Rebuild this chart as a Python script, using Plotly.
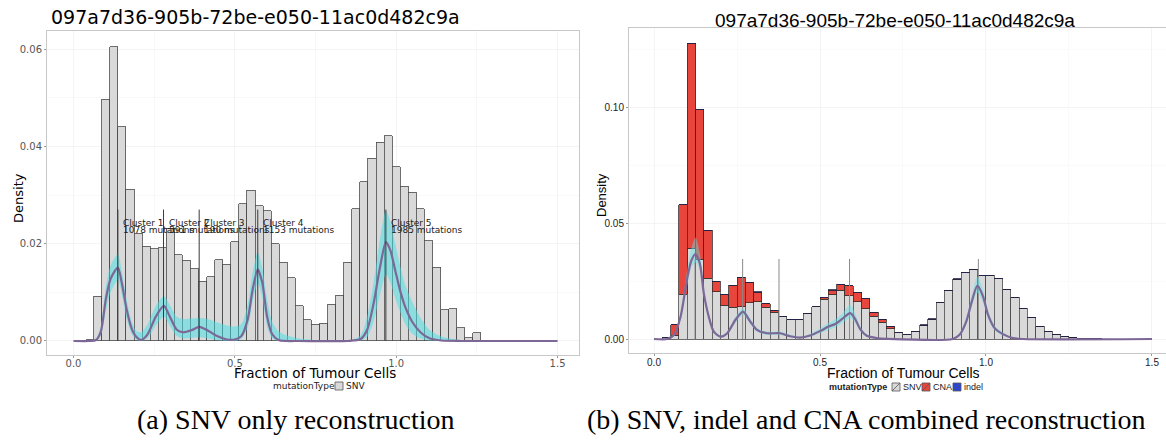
import plotly.graph_objects as go

# ---------------- data: left panel (SNV only) ----------------
L_bins = [0.050, 0.075, 0.100, 0.125, 0.150, 0.175, 0.200, 0.225, 0.250, 0.275,
          0.300, 0.325, 0.350, 0.375, 0.400, 0.425, 0.450, 0.475, 0.500, 0.525,
          0.550, 0.575, 0.600, 0.625, 0.650, 0.675, 0.700, 0.725, 0.750, 0.775,
          0.800, 0.825, 0.850, 0.875, 0.900, 0.925, 0.950, 0.975, 1.000, 1.025,
          1.050, 1.075, 1.100, 1.125, 1.150, 1.175, 1.200, 1.225, 1.250, 1.275,
          1.300, 1.325, 1.350, 1.375, 1.400, 1.425, 1.450, 1.475]
L_snv = [0.0003, 0.0092, 0.0497, 0.0605, 0.0440, 0.0312, 0.0221, 0.0195, 0.0190, 0.0192,
         0.0232, 0.0177, 0.0166, 0.0148, 0.0123, 0.0132, 0.0167, 0.0158, 0.0204, 0.0282,
         0.0310, 0.0278, 0.0268, 0.0200, 0.0162, 0.0130, 0.0072, 0.0044, 0.0034, 0.0036,
         0.0076, 0.0094, 0.0162, 0.0272, 0.0327, 0.0376, 0.0408, 0.0422, 0.0358, 0.0318,
         0.0306, 0.0272, 0.0206, 0.0152, 0.0064, 0.0066, 0.0027, 0.0007, 0.0017, 0.0002,
         0.0001, 0.0001, 0.0, 0.0, 0.0, 0.0, 0.0001, 0.0001]

L_x = [0.0, 0.05, 0.07, 0.085, 0.10, 0.115, 0.1375, 0.15, 0.165, 0.18,
       0.195, 0.21, 0.23, 0.255, 0.28, 0.30, 0.32, 0.34, 0.365, 0.39,
       0.415, 0.445, 0.475, 0.50, 0.52, 0.54, 0.555, 0.571, 0.585, 0.60,
       0.615, 0.635, 0.66, 0.70, 0.85, 0.89, 0.91, 0.93, 0.95, 0.968,
       0.982, 0.997, 1.012, 1.028, 1.05, 1.075, 1.105, 1.14, 1.20, 1.50]
L_y = [0, 0, 0.0002, 0.0020, 0.0085, 0.0128, 0.0151, 0.0118, 0.0064, 0.0026,
       0.0008, 0.0002, 0.0014, 0.0050, 0.0072, 0.0048, 0.0023, 0.0018, 0.0022, 0.0029,
       0.0022, 0.0010, 0.0003, 0.0003, 0.0010, 0.0045, 0.0105, 0.0147, 0.0120, 0.0050,
       0.0015, 0.0002, 0.0, 0.0, 0.0, 0.0004, 0.0023, 0.0077, 0.0152, 0.0203,
       0.0186, 0.0145, 0.0104, 0.0070, 0.0039, 0.0018, 0.0005, 0.0001, 0.0, 0.0]
L_lo = [0, 0, 0.0001, 0.0012, 0.0060, 0.0100, 0.0125, 0.0095, 0.0045, 0.0015,
        0.0003, 0.0, 0.0006, 0.0032, 0.0050, 0.0030, 0.0010, 0.0005, 0.0006, 0.0008,
        0.0005, 0.0002, 0.0, 0.0, 0.0004, 0.0028, 0.0080, 0.0118, 0.0090, 0.0030,
        0.0006, 0.0, 0.0, 0.0, 0.0, 0.0001, 0.0008, 0.0040, 0.0095, 0.0137,
        0.0120, 0.0088, 0.0060, 0.0035, 0.0015, 0.0005, 0.0001, 0.0, 0.0, 0.0]
L_hi = [0, 0.0001, 0.0005, 0.0030, 0.0110, 0.0155, 0.0178, 0.0142, 0.0085, 0.0040,
        0.0020, 0.0018, 0.0035, 0.0072, 0.0092, 0.0072, 0.0050, 0.0045, 0.0046, 0.0047,
        0.0045, 0.0038, 0.0032, 0.0030, 0.0035, 0.0075, 0.0140, 0.0183, 0.0150, 0.0085,
        0.0040, 0.0020, 0.0012, 0.0005, 0.0, 0.0012, 0.0050, 0.0120, 0.0210, 0.0268,
        0.0245, 0.0200, 0.0155, 0.0115, 0.0080, 0.0048, 0.0022, 0.0009, 0.0002, 0.0]

L_cluster_ccf = [0.1376, 0.279, 0.3895, 0.571, 0.968]
L_cluster_name = ["Cluster 1", "Cluster 2", "Cluster 3", "Cluster 4", "Cluster 5"]
L_cluster_muts = ["1078 mutations", "591 mutations", "190 mutations", "1153 mutations", "1985 mutations"]
L_cluster_height = 0.027

# ---------------- data: right panel (SNV + indel + CNA) ----------------
R_bins = [0.0375, 0.0625, 0.0875, 0.1125, 0.1375, 0.1625, 0.1875, 0.2125, 0.2375, 0.2625,
          0.2875, 0.3125, 0.3375, 0.3625, 0.3875, 0.4125, 0.4375, 0.4625, 0.4875, 0.5125,
          0.5375, 0.5625, 0.5875, 0.6125, 0.6375, 0.6625, 0.6875, 0.7125, 0.7375, 0.7625,
          0.7875, 0.8125, 0.8375, 0.8625, 0.8875, 0.9125, 0.9375, 0.9625, 0.9875, 1.0125,
          1.0375, 1.0625, 1.0875, 1.1125, 1.1375, 1.1625, 1.1875, 1.2125, 1.2375, 1.2625,
          1.2875, 1.3125, 1.3375]
R_snv = [0.0005, 0.0017, 0.0193, 0.0391, 0.0343, 0.0261, 0.0204, 0.0145, 0.0136, 0.0139,
         0.0157, 0.0161, 0.0136, 0.0115, 0.0097, 0.0083, 0.0085, 0.0110, 0.0140, 0.0172,
         0.0194, 0.0210, 0.0187, 0.0161, 0.0131, 0.0098, 0.0072, 0.0045, 0.0026, 0.0020,
         0.0033, 0.0059, 0.0086, 0.0158, 0.0211, 0.0258, 0.0286, 0.0301, 0.0274, 0.0274,
         0.0259, 0.0214, 0.0180, 0.0132, 0.0092, 0.0056, 0.0033, 0.0019, 0.0011, 0.0006,
         0.0004, 0.0002, 0.0001]
R_cna = [0.0, 0.0045, 0.0386, 0.0883, 0.0647, 0.0209, 0.0046, 0.0048, 0.0095, 0.0127,
         0.0087, 0.0040, 0.0016, 0.0006, 0.0, 0.0, 0.0, 0.0, 0.0, 0.0005,
         0.0017, 0.0027, 0.0043, 0.0040, 0.0044, 0.0018, 0.0013, 0.0008, 0.0004, 0.0,
         0.0, 0.0, 0.0, 0.0, 0.0, 0.0, 0.0, 0.0, 0.0, 0.0,
         0.0, 0.0, 0.0, 0.0, 0.0, 0.0, 0.0, 0.0, 0.0, 0.0,
         0.0, 0.0, 0.0]
R_indel = [0.0, 0.0, 0.0, 0.0, 0.0, 0.0, 0.0, 0.0, 0.0, 0.0,
           0.0, 0.0002, 0.0, 0.0, 0.0, 0.0, 0.0, 0.0, 0.0, 0.0,
           0.0002, 0.0, 0.0, 0.0, 0.0, 0.0, 0.0, 0.0, 0.0, 0.0,
           0.0, 0.0002, 0.0002, 0.0, 0.0, 0.0002, 0.0002, 0.0, 0.0, 0.0,
           0.0, 0.0, 0.0, 0.0, 0.0, 0.0, 0.0, 0.0, 0.0, 0.0,
           0.0, 0.0, 0.0]

R_x = [0.0, 0.04, 0.06, 0.08, 0.10, 0.113, 0.125, 0.138, 0.15, 0.165,
       0.18, 0.20, 0.22, 0.245, 0.268, 0.29, 0.31, 0.34, 0.38, 0.41,
       0.44, 0.47, 0.50, 0.526, 0.546, 0.566, 0.591, 0.606, 0.621, 0.641,
       0.671, 0.70, 0.90, 0.921, 0.941, 0.956, 0.974, 0.991, 1.006, 1.026,
       1.051, 1.081, 1.111, 1.50]
R_y = [0, 0, 0.0017, 0.0096, 0.0261, 0.0340, 0.0366, 0.0326, 0.0197, 0.0096,
       0.0032, 0.0010, 0.0024, 0.0082, 0.0118, 0.0075, 0.0039, 0.0025, 0.0025, 0.0012,
       0.0006, 0.0015, 0.0034, 0.0054, 0.0065, 0.0086, 0.0112, 0.0086, 0.0043, 0.0014,
       0.0004, 0.0001, 0.0, 0.0019, 0.0077, 0.0155, 0.0230, 0.0184, 0.0105, 0.0047,
       0.0021, 0.0004, 0.0, 0.0]
R_lo = [0, 0, 0.0012, 0.0080, 0.0230, 0.0310, 0.0330, 0.0300, 0.0180, 0.0085,
        0.0026, 0.0006, 0.0018, 0.0070, 0.0105, 0.0065, 0.0032, 0.0018, 0.0018, 0.0008,
        0.0003, 0.0010, 0.0025, 0.0040, 0.0050, 0.0068, 0.0090, 0.0070, 0.0034, 0.0009,
        0.0002, 0.0, 0.0, 0.0012, 0.0062, 0.0135, 0.0200, 0.0160, 0.0090, 0.0038,
        0.0015, 0.0002, 0.0, 0.0]
R_hi = [0, 0.0001, 0.0022, 0.0115, 0.0300, 0.0395, 0.0438, 0.0370, 0.0220, 0.0110,
        0.0040, 0.0015, 0.0030, 0.0095, 0.0132, 0.0088, 0.0048, 0.0032, 0.0032, 0.0018,
        0.0010, 0.0022, 0.0045, 0.0070, 0.0085, 0.0108, 0.0148, 0.0110, 0.0055, 0.0020,
        0.0006, 0.0002, 0.0001, 0.0026, 0.0095, 0.0180, 0.0270, 0.0215, 0.0125, 0.0058,
        0.0028, 0.0007, 0.0001, 0.0]

R_cluster_ccf = [0.1235, 0.267, 0.3765, 0.589, 0.977]
R_cluster_height = 0.0345

TITLE = "097a7d36-905b-72be-e050-11ac0d482c9a"
LEGEND_TITLE = "mutationType"
L_types = ["SNV"]
R_types = ["SNV", "CNA", "indel"]

# ---------------- styling ----------------
W, H = 1166, 441
def px(x):
    return x / W
def py(y):
    return 1 - y / H

GREY = "#d9d9d9"
OUTLINE = "#4a4a4a"
PURPLE = "#7d6796"
RED = "#e8463c"
BLUE = "#2b45d8"
type_colors = {"SNV": GREY, "CNA": RED, "indel": BLUE}

fig = go.Figure()

# left histogram
fig.add_trace(go.Bar(x=L_bins, y=L_snv, name="SNV", marker=dict(color=GREY, line=dict(color=OUTLINE, width=0.8)),
                     xaxis="x", yaxis="y", showlegend=False))
fig.add_trace(go.Scatter(x=L_x, y=L_lo, mode="lines", line=dict(width=0, shape="spline", smoothing=0.7),
                         xaxis="x", yaxis="y", showlegend=False, hoverinfo="skip"))
fig.add_trace(go.Scatter(x=L_x, y=L_hi, mode="lines", line=dict(width=0, shape="spline", smoothing=0.7),
                         fill="tonexty", fillcolor="rgba(64,224,232,0.5)", xaxis="x", yaxis="y",
                         showlegend=False, hoverinfo="skip"))
fig.add_trace(go.Scatter(x=L_x, y=L_y, mode="lines", line=dict(color=PURPLE, width=2.2, shape="spline", smoothing=0.7),
                         xaxis="x", yaxis="y", showlegend=False))
lx, ly = [], []
for c in L_cluster_ccf:
    lx += [c, c, None]
    ly += [0, L_cluster_height, None]
fig.add_trace(go.Scatter(x=lx, y=ly, mode="lines", line=dict(color="#3a3a3a", width=1),
                         xaxis="x", yaxis="y", showlegend=False, hoverinfo="skip"))

# right stacked histogram
fig.add_trace(go.Bar(x=R_bins, y=R_snv, name="SNV", marker=dict(color=GREY, line=dict(color=OUTLINE, width=0.8)),
                     xaxis="x2", yaxis="y2", showlegend=False))
fig.add_trace(go.Bar(x=R_bins, y=R_cna, name="CNA", marker=dict(color=RED, line=dict(color="#3a2a2a", width=0.8)),
                     xaxis="x2", yaxis="y2", showlegend=False))
fig.add_trace(go.Bar(x=R_bins, y=R_indel, name="indel", marker=dict(color=BLUE, line=dict(color="#222244", width=0.8)),
                     xaxis="x2", yaxis="y2", showlegend=False))
rx, ry = [], []
for c in R_cluster_ccf:
    rx += [c, c, None]
    ry += [0, R_cluster_height, None]
fig.add_trace(go.Scatter(x=rx, y=ry, mode="lines", line=dict(color="#8a8a8a", width=1),
                         xaxis="x2", yaxis="y2", showlegend=False, hoverinfo="skip"))
fig.add_trace(go.Scatter(x=R_x, y=R_lo, mode="lines", line=dict(width=0, shape="spline", smoothing=0.7),
                         xaxis="x2", yaxis="y2", showlegend=False, hoverinfo="skip"))
fig.add_trace(go.Scatter(x=R_x, y=R_hi, mode="lines", line=dict(width=0, shape="spline", smoothing=0.7),
                         fill="tonexty", fillcolor="rgba(90,228,236,0.45)", xaxis="x2", yaxis="y2",
                         showlegend=False, hoverinfo="skip"))
fig.add_trace(go.Scatter(x=R_x, y=R_y, mode="lines", line=dict(color=PURPLE, width=2.2, shape="spline", smoothing=0.7),
                         xaxis="x2", yaxis="y2", showlegend=False))

axis_common = dict(showline=True, mirror=True, linecolor="#c8c8c8", linewidth=1,
                   gridcolor="#ececec", gridwidth=0.6, zeroline=False,
                   ticks="outside", ticklen=2, tickcolor="#999999")

fig.update_layout(
    width=W, height=H, margin=dict(l=0, r=0, t=0, b=0, autoexpand=False),
    paper_bgcolor="white", plot_bgcolor="white",
    barmode="stack", bargap=0, showlegend=False,
    xaxis=dict(domain=[px(47), px(579)], range=[-0.0821, 1.5665], anchor="y",
               tickvals=[0, 0.5, 1.0, 1.5], ticktext=["0.0", "0.5", "1.0", "1.5"],
               tickfont=dict(family="DejaVu Sans", size=10, color="#555555"), ticklabelstandoff=-3,
               minor=dict(tickvals=[0.25, 0.75, 1.25], showgrid=True, gridcolor="#f4f4f4", ticks=""),
               **axis_common),
    yaxis=dict(domain=[py(355), py(31)], range=[-0.00288, 0.0637], anchor="x",
               tickvals=[0, 0.02, 0.04, 0.06], ticktext=["0.00", "0.02", "0.04", "0.06"],
               tickfont=dict(family="DejaVu Sans", size=10, color="#555555"),
               minor=dict(tickvals=[0.01, 0.03, 0.05], showgrid=True, gridcolor="#f4f4f4", ticks=""),
               **axis_common),
    xaxis2=dict(domain=[px(629), 1.0], range=[-0.0753, 1.5422], anchor="y2",
                tickvals=[0, 0.5, 1.0, 1.5], ticktext=["0.0", "0.5", "1.0", "1.5"],
                tickfont=dict(family="Liberation Sans", size=10, color="#222222"), ticklabelstandoff=-2,
                minor=dict(tickvals=[0.25, 0.75, 1.25], showgrid=True, gridcolor="#f6f6f6", ticks=""),
                **axis_common),
    yaxis2=dict(domain=[py(353), py(28)], range=[-0.00603, 0.1341], anchor="x2",
                tickvals=[0, 0.05, 0.10], ticktext=["0.00", "0.05", "0.10"],
                tickfont=dict(family="Liberation Sans", size=10, color="#222222"),
                minor=dict(tickvals=[0.025, 0.075, 0.125], showgrid=True, gridcolor="#f6f6f6", ticks=""),
                **axis_common),
)

ann = []
shapes = []
def text(t, x, y, size, family, xanchor="center", angle=0, color="black"):
    ann.append(dict(text=t, x=px(x), y=py(y), xref="paper", yref="paper", xanchor=xanchor, yanchor="middle",
                    textangle=angle, showarrow=False, font=dict(family=family, size=size, color=color)))

text(TITLE, 49, 17, 19, "DejaVu Sans", xanchor="left")
text(TITLE, 895, 20, 19, "Liberation Sans")
text("Density", 18, 198, 13, "DejaVu Sans", angle=-90)
text("Density", 601, 195, 13, "Liberation Sans", angle=-90)
text("Fraction of Tumour Cells", 315, 373, 13.5, "DejaVu Sans")
text("Fraction of Tumour Cells", 903, 373, 14, "Liberation Sans")
text("(a) SNV only reconstruction", 296, 419, 28, "Liberation Serif")
text("(b) SNV, indel and CNA combined reconstruction", 866, 419, 28, "Liberation Serif")

# cluster labels (left panel)
for c, nm, mu in zip(L_cluster_ccf, L_cluster_name, L_cluster_muts):
    ann.append(dict(text=nm, x=c + 0.01, y=0.0243, xref="x", yref="y", xanchor="left", yanchor="middle",
                    showarrow=False, font=dict(family="DejaVu Sans", size=9, color="#222222")))
    ann.append(dict(text=mu, x=c + 0.01, y=0.0229, xref="x", yref="y", xanchor="left", yanchor="middle",
                    showarrow=False, font=dict(family="DejaVu Sans", size=9, color="#222222")))

# legends (manual, ggplot style)
def legend(x0, y, title, types, family, bold, label_w, title_w):
    t = "<b>%s</b>" % title if bold else title
    text(t, x0, y, 9, family, xanchor="left", color="#222222")
    x = x0 + title_w
    for tp in types:
        shapes.append(dict(type="rect", xref="paper", yref="paper", x0=px(x), x1=px(x + 8),
                           y0=py(y + 4), y1=py(y - 4), fillcolor=type_colors[tp],
                           line=dict(color="#555555", width=0.8)))
        if bold:
            shapes.append(dict(type="line", xref="paper", yref="paper", x0=px(x), x1=px(x + 8),
                               y0=py(y + 4), y1=py(y - 4), line=dict(color="#555555", width=0.8)))
        text(tp, x + 9, y, 9, family, xanchor="left", color="#222222")
        x += 9 + label_w[tp] + 2

legend(271, 386, LEGEND_TITLE, L_types, "DejaVu Sans", False, {"SNV": 19}, 64)
legend(827, 387, LEGEND_TITLE, R_types, "Liberation Sans", True, {"SNV": 19, "CNA": 20, "indel": 18}, 65)

fig.update_layout(annotations=ann, shapes=shapes)

fig.write_html("out.html", config={"displayModeBar": False, "staticPlot": True},
               post_script="document.body.style.margin='0px';document.body.style.padding='0px';"
                           "document.body.style.overflow='hidden';")
